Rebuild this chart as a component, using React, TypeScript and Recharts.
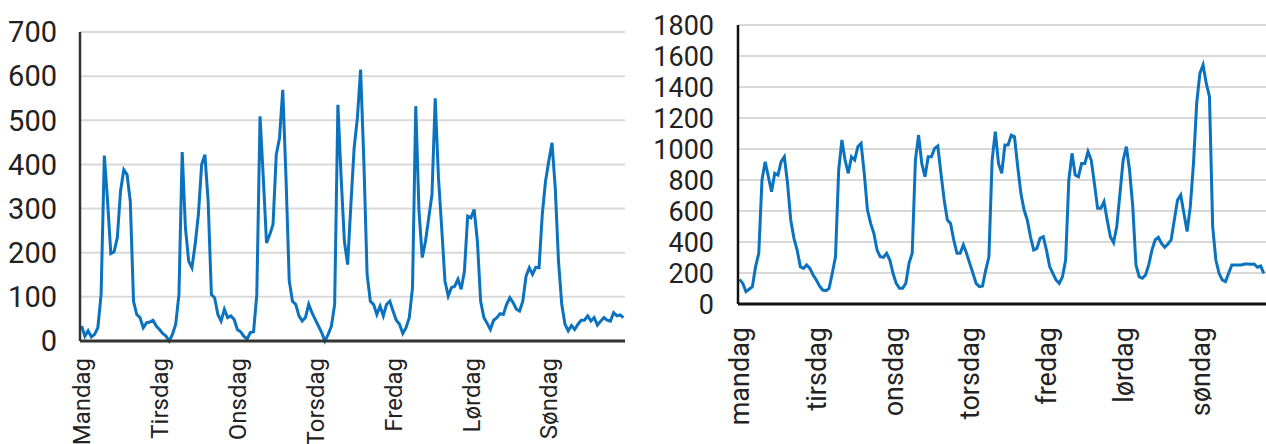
import { LineChart, Line, XAxis, YAxis, CartesianGrid } from "recharts";

// ukedager, venstre og høyre figur
const dagerStor = ["Mandag", "Tirsdag", "Onsdag", "Torsdag", "Fredag", "Lørdag", "Søndag"];
const dagerLiten = ["mandag", "tirsdag", "onsdag", "torsdag", "fredag", "lørdag", "søndag"];

// timeverdier, venstre figur (7 x 24)
const venstreVerdier = [
  34, 11, 23, 9, 15, 30, 105, 420, 317, 198, 202, 234, 340, 388, 377, 317, 90, 60, 53, 30, 41, 43, 47, 34,
  26, 17, 11, 0, 15, 38, 105, 428, 256, 181, 166, 219, 287, 400, 422, 317, 105, 98, 60, 45, 72, 53, 57, 49,
  26, 21, 11, 4, 19, 21, 105, 509, 370, 222, 241, 264, 422, 460, 569, 370, 136, 90, 83, 57, 45, 53, 83, 64,
  49, 34, 19, 0, 15, 34, 83, 535, 370, 226, 173, 309, 437, 505, 615, 407, 151, 90, 83, 60, 79, 57, 83, 90,
  68, 47, 38, 17, 30, 53, 121, 532, 294, 189, 226, 279, 332, 550, 370, 256, 136, 102, 121, 124, 140, 117, 158, 283,
  279, 298, 226, 90, 53, 40, 26, 47, 53, 62, 60, 83, 98, 87, 72, 68, 90, 147, 166, 151, 167, 166, 287, 362,
  407, 449, 347, 181, 83, 38, 23, 35, 26, 38, 47, 47, 57, 45, 53, 36, 45, 53, 47, 45, 64, 57, 59, 53,
];

// timeverdier, høyre figur (siste timer er kuttet i bildet)
const hoyreVerdier = [
  159, 133, 80, 95, 112, 241, 327, 800, 918, 821, 725, 843, 832, 918, 950, 778, 542, 424, 348, 241, 230, 252, 230, 187,
  155, 116, 90, 86, 101, 198, 305, 864, 1058, 929, 843, 950, 929, 1015, 1036, 843, 606, 520, 456, 348, 305, 301, 327, 284,
  198, 133, 101, 101, 133, 262, 327, 929, 1090, 907, 821, 950, 950, 1004, 1019, 843, 671, 542, 520, 413, 327, 327, 381, 327,
  262, 198, 133, 112, 116, 219, 305, 929, 1112, 907, 843, 1026, 1026, 1090, 1079, 886, 714, 606, 542, 434, 348, 359, 424, 434,
  348, 241, 198, 155, 133, 176, 284, 800, 972, 832, 821, 907, 907, 983, 929, 778, 617, 617, 660, 542, 434, 396, 499, 714,
  929, 1015, 864, 628, 252, 176, 166, 187, 252, 348, 413, 430, 391, 366, 387, 413, 542, 671, 703, 585, 467, 628, 907, 1294,
  1488, 1542, 1423, 1337, 499, 284, 198, 155, 144, 198, 252, 252, 252, 252, 258, 258, 256, 258, 237, 245, 198,
];

const venstreYTicks = [0, 100, 200, 300, 400, 500, 600, 700];
const hoyreYTicks = [0, 200, 400, 600, 800, 1000, 1200, 1400, 1600, 1800];
const dagTicks = [0, 24, 48, 72, 96, 120, 144];

const venstreData = venstreVerdier.map((v, h) => ({ h, v }));
const hoyreData = hoyreVerdier.map((v, h) => ({ h, v }));

const FONT = "Roboto, sans-serif";
const BLA = "#0b72c0";

function DagTick(props: any) {
  const { x, y, payload, dager, fontSize } = props;
  const navn = dager[Math.round(payload.value / 24)];
  return (
    <text
      x={x}
      y={y}
      transform={`rotate(-90 ${x} ${y})`}
      textAnchor="end"
      dy="0.36em"
      fontSize={fontSize}
      fontFamily={FONT}
      fill="#222"
    >
      {navn}
    </text>
  );
}

export default function App() {
  return (
    <div
      style={{
        position: "fixed",
        left: 0,
        top: 0,
        width: 1266,
        height: 444,
        overflow: "hidden",
        background: "#fff",
      }}
    >
      <div style={{ position: "absolute", left: 0, top: 0 }}>
        <LineChart
          width={640}
          height={444}
          data={venstreData}
          margin={{ top: 32, right: 15, bottom: 3, left: 0 }}
        >
          <CartesianGrid vertical={false} stroke="#d9d9d9" strokeWidth={2} />
          <XAxis
            dataKey="h"
            type="number"
            domain={[-0.5, 167.5]}
            ticks={dagTicks}
            interval={0}
            height={100}
            tickLine={false}
            tickSize={0}
            tickMargin={17}
            axisLine={{ stroke: "#333", strokeWidth: 3 }}
            tick={<DagTick dager={dagerStor} fontSize={24} />}
          />
          <YAxis
            domain={[0, 700]}
            ticks={venstreYTicks}
            interval={0}
            width={80}
            tickLine={false}
            tickSize={0}
            tickMargin={23}
            axisLine={{ stroke: "#333", strokeWidth: 2.5 }}
            tick={{ fontSize: 29, fontFamily: FONT, fill: "#222" }}
          />
          <Line
            dataKey="v"
            type="linear"
            stroke={BLA}
            strokeWidth={3}
            dot={false}
            isAnimationActive={false}
          />
        </LineChart>
      </div>

      <div style={{ position: "absolute", left: 640, top: 0 }}>
        <LineChart
          width={640}
          height={444}
          data={hoyreData}
          margin={{ top: 25, right: 5, bottom: 3, left: 0 }}
        >
          <CartesianGrid vertical={false} stroke="#d9d9d9" strokeWidth={2} />
          <XAxis
            dataKey="h"
            type="number"
            domain={[-0.5, 167.5]}
            ticks={dagTicks}
            interval={0}
            height={137}
            tickLine={false}
            tickSize={0}
            tickMargin={23}
            axisLine={{ stroke: "#111", strokeWidth: 3 }}
            tick={<DagTick dager={dagerLiten} fontSize={27} />}
          />
          <YAxis
            domain={[0, 1800]}
            ticks={hoyreYTicks}
            interval={0}
            width={98}
            tickLine={false}
            tickSize={0}
            tickMargin={24}
            axisLine={{ stroke: "#111", strokeWidth: 2.5 }}
            tick={{ fontSize: 27, fontFamily: FONT, fill: "#222" }}
          />
          <Line
            dataKey="v"
            type="linear"
            stroke={BLA}
            strokeWidth={3}
            dot={false}
            isAnimationActive={false}
          />
        </LineChart>
      </div>
    </div>
  );
}
